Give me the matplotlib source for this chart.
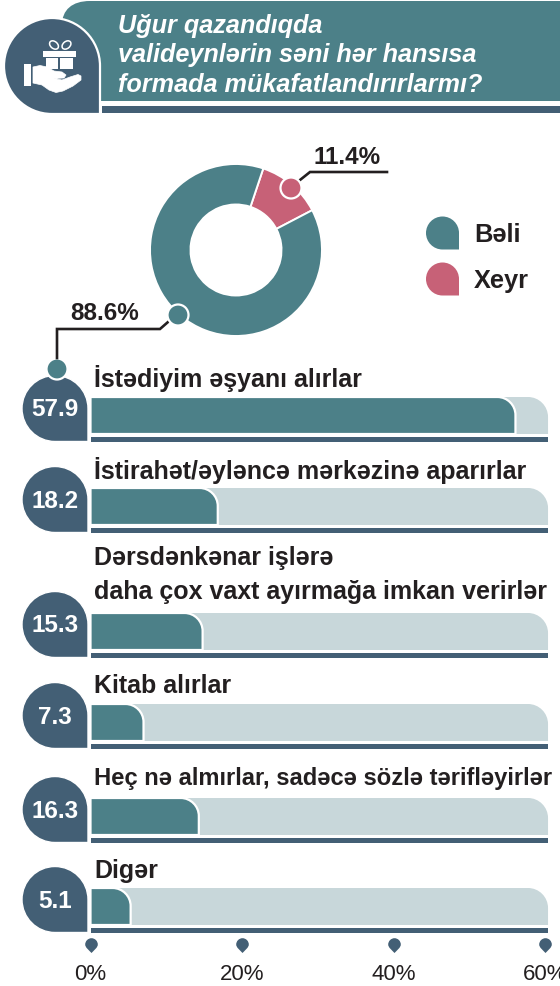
import matplotlib
matplotlib.use("Agg")
import matplotlib.pyplot as plt
from matplotlib.patches import Circle, PathPatch, Rectangle, Ellipse
from matplotlib.path import Path

TEAL = "#4c8088"
DARK = "#435f75"
LIGHT = "#c8d7da"
PINK = "#c76177"
INK = "#231f20"

plt.rcParams["font.family"] = ["Liberation Sans", "DejaVu Sans"]

title_lines = ["Uğur qazandıqda", "valideynlərin səni hər hansısa", "formada mükafatlandırırlarmı?"]
donut_labels = ["Xeyr", "Bəli"]
donut_values = [11.4, 88.6]
# slice shares as drawn in the picture, the pink one is a bit wider than its label
donut_drawn = [12.2, 87.8]
categories = [
    "İstədiyim əşyanı alırlar",
    "İstirahət/əyləncə mərkəzinə aparırlar",
    "Dərsdənkənar işlərə\ndaha çox vaxt ayırmağa imkan verirlər",
    "Kitab alırlar",
    "Heç nə almırlar, sadəcə sözlə tərifləyirlər",
    "Digər",
]
value_labels = ["57.9", "18.2", "15.3", "7.3", "16.3", "5.1"]
# bar lengths as drawn in the picture, read against the axis
bar_lengths = [56.1, 16.8, 14.8, 7.0, 14.3, 5.3]
track_end = 60.4
tick_values = [0, 20, 40, 60]

# layout in pixels
W, H = 560, 986
X0, X60 = 90.5, 545
row_bottoms = [441, 532, 657, 748, 842, 932]
label_ys = [379, 471, 575, 686, 779, 871]
label_sizes = [18, 18, 18, 18, 17.1, 18]
PX = (X60 - X0) / 60


def teardrop(cx, cy, r):
    # circle with a square lower right corner, y axis points down
    k = 0.5523 * r
    verts = [(cx + r, cy + r), (cx, cy + r),
             (cx - k, cy + r), (cx - r, cy + k), (cx - r, cy),
             (cx - r, cy - k), (cx - k, cy - r), (cx, cy - r),
             (cx + k, cy - r), (cx + r, cy - k), (cx + r, cy),
             (cx + r, cy + r)]
    codes = [Path.MOVETO, Path.LINETO] + [Path.CURVE4] * 9 + [Path.CLOSEPOLY]
    return Path(verts, codes)


def round_bar(x1, top, bottom, radius):
    # bar from zero to x1 in percent, only the upper right corner is round
    rx = radius / PX
    verts = [(0, bottom), (0, top), (x1 - rx, top),
             (x1 - 0.45 * rx, top), (x1, top + 0.45 * radius), (x1, top + radius),
             (x1, bottom), (0, bottom)]
    codes = [Path.MOVETO, Path.LINETO, Path.LINETO,
             Path.CURVE4, Path.CURVE4, Path.CURVE4,
             Path.LINETO, Path.CLOSEPOLY]
    return Path(verts, codes)


def header(ax):
    r = 24
    verts = [(62, 101), (62, 1 + r), (62, 10), (72, 1), (62 + r + 4, 1),
             (W, 1), (W, 101), (62, 101)]
    codes = [Path.MOVETO, Path.LINETO, Path.CURVE4, Path.CURVE4, Path.CURVE4,
             Path.LINETO, Path.LINETO, Path.CLOSEPOLY]
    ax.add_patch(PathPatch(Path(verts, codes), fc=TEAL, ec="none"))
    ax.add_patch(Rectangle((102, 106), W - 102, 7, fc=DARK, ec="none"))
    ax.add_patch(PathPatch(teardrop(52, 66, 48), fc=DARK, ec="white", lw=1.6))
    for line, y in zip(title_lines, [26, 55, 85]):
        ax.text(118, y, line, color="white", fontsize=18.2, fontweight="bold",
                fontstyle="italic", va="center", ha="left")


def gift_icon(ax):
    ax.add_patch(Ellipse((54, 45), 10, 7, angle=40, fc="none", ec="white", lw=1.1))
    ax.add_patch(Ellipse((66.5, 45), 10, 7, angle=-40, fc="none", ec="white", lw=1.1))
    ax.add_patch(Rectangle((43, 51), 33, 6, fc="white", ec="none"))
    ax.add_patch(Rectangle((46, 58), 12, 11, fc="white", ec="none"))
    ax.add_patch(Rectangle((60, 58), 13, 11, fc="white", ec="none"))
    ax.add_patch(Rectangle((23.5, 64), 7, 21.5, fc="white", ec="none"))
    hand = [(33, 67), (40, 65.5), (47, 67), (54, 71), (62, 72), (66, 75), (64, 78), (54, 78.5),
            (62, 80), (70, 77), (78, 74.5), (81, 76), (81, 80), (73, 86), (63, 91), (56, 92.5),
            (49, 90), (42, 85), (33, 83)]
    ax.add_patch(plt.Polygon(hand, closed=True, fc="white", ec="white", lw=0.5, joinstyle="round"))


def callouts(ax):
    ax.plot([300, 310, 387], [180, 172, 172], color=INK, lw=1.9, solid_joinstyle="miter")
    ax.plot([168, 160, 57, 57], [322, 329, 329, 358], color=INK, lw=1.9, solid_joinstyle="miter")
    ax.add_patch(Circle((291, 188), 10.5, fc=PINK, ec="white", lw=1.6, zorder=3))
    ax.add_patch(Circle((178, 315), 10.5, fc=TEAL, ec="white", lw=1.6, zorder=3))
    ax.text(347, 158, f"{donut_values[0]}%", fontsize=17.5, fontweight="bold", color=INK,
            ha="center", va="center")
    ax.text(105, 314, f"{donut_values[1]}%", fontsize=17.5, fontweight="bold", color=INK,
            ha="center", va="center")


def legend(ax):
    for name, color, cy in [(donut_labels[1], TEAL, 233), (donut_labels[0], PINK, 279)]:
        ax.add_patch(PathPatch(teardrop(442.5, cy, 16.5), fc=color, ec="none"))
        ax.text(474, cy + 2, name, fontsize=18.3, fontweight="bold", color=INK,
                ha="left", va="center")


def rows(ax, ax_bars):
    for i, bottom in enumerate(row_bottoms):
        bar_top = bottom - 44
        bar_bottom = bottom - 7
        ax_bars.add_patch(PathPatch(round_bar(track_end, bar_top, bar_bottom, 20), fc=LIGHT, ec="none",
                                    clip_on=False))
        ax_bars.add_patch(PathPatch(round_bar(bar_lengths[i], bar_top, bar_bottom, 18), fc=TEAL,
                                    ec="white", lw=1.6, joinstyle="miter", clip_on=False))
        ax_bars.add_patch(Rectangle((0, bottom - 4), track_end, 4.5, fc=DARK, ec="none", clip_on=False))
        ax.add_patch(PathPatch(teardrop(55, bottom - 32.5, 33), fc=DARK, ec="white", lw=1.0, zorder=4))
        ax.text(55, bottom - 31, value_labels[i], color="white", fontsize=17.5, fontweight="bold",
                ha="center", va="center", zorder=5)
        ax.text(94.5, label_ys[i], categories[i], color=INK, fontsize=label_sizes[i], fontweight="bold",
                ha="left", va="center", linespacing=1.5)
    ax.add_patch(Circle((57, 369), 10.5, fc=TEAL, ec="white", lw=1.6, zorder=6))


def ticks(ax_bars):
    marker = Path([(0, 1), (-0.55, 1), (-1, 0.55), (-1, 0), (-1, -0.5), (-0.4, -0.9), (0, -1.35),
                   (0.4, -0.9), (1, -0.5), (1, 0), (1, 0.55), (0.55, 1), (0, 1)],
                  [Path.MOVETO] + [Path.CURVE4] * 12)
    ax_bars.scatter(tick_values, [944] * len(tick_values), marker=marker, s=150, color=DARK,
                    linewidths=0, clip_on=False, zorder=3)
    for t in tick_values:
        ax_bars.text(t, 974, f"{t}%", color=INK, fontsize=16, ha="center", va="center", clip_on=False)


def main():
    fig = plt.figure(figsize=(W / 100, H / 100), dpi=100)
    ax = fig.add_axes([0, 0, 1, 1])
    ax.set_xlim(0, W)
    ax.set_ylim(H, 0)
    ax.axis("off")

    ax_bars = fig.add_axes([X0 / W, 0, (X60 - X0) / W, 1])
    ax_bars.set_xlim(0, 60)
    ax_bars.set_ylim(H, 0)
    ax_bars.axis("off")
    ax_bars.patch.set_alpha(0)

    # donut goes on its own axes, 150-322 px wide, 164-336 px high
    ax_pie = fig.add_axes([150 / W, 1 - 336 / H, 172 / W, 172 / H])
    ax_pie.pie(donut_drawn, colors=[PINK, TEAL], startangle=71.5, counterclock=False, radius=1,
               wedgeprops={"width": 40.5 / 86, "edgecolor": "white", "linewidth": 1.4})
    ax_pie.set_xlim(-1, 1)
    ax_pie.set_ylim(-1, 1)

    header(ax)
    gift_icon(ax)
    legend(ax)
    rows(ax, ax_bars)
    ticks(ax_bars)

    ax_top = fig.add_axes([0, 0, 1, 1])
    ax_top.set_xlim(0, W)
    ax_top.set_ylim(H, 0)
    ax_top.axis("off")
    ax_top.patch.set_alpha(0)
    callouts(ax_top)

    fig.savefig("out.png", dpi=100)
    plt.close(fig)


main()
